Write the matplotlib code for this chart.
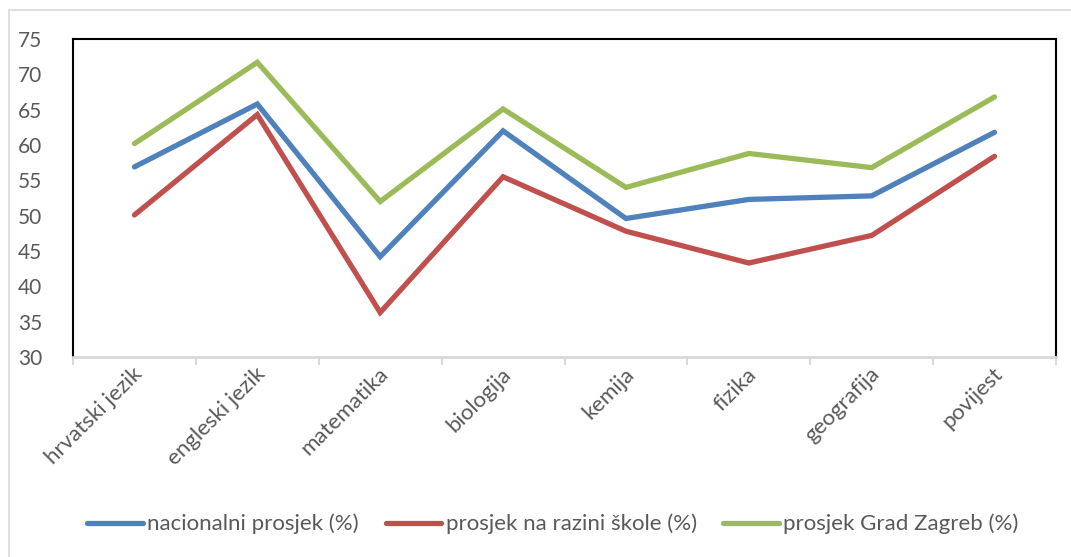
import matplotlib.pyplot as plt
from matplotlib.patches import Rectangle

subjects = ['hrvatski jezik', 'engleski jezik', 'matematika', 'biologija',
            'kemija', 'fizika', 'geografija', 'povijest']
nacionalni = [56.9, 65.8, 44.2, 62.0, 49.6, 52.3, 52.8, 61.8]
skola = [50.1, 64.3, 36.3, 55.5, 47.8, 43.3, 47.2, 58.4]
zagreb = [60.2, 71.7, 52.0, 65.1, 54.0, 58.8, 56.8, 66.8]

labels = ['nacionalni prosjek (%)', 'prosjek na razini škole (%)', 'prosjek Grad Zagreb (%)']
colors = ['#4F81BD', '#C0504D', '#9BBB59']
txt = '#595959'

plt.rcParams['font.family'] = ['Lato', 'DejaVu Sans']

fig = plt.figure(figsize=(10.71, 5.57), dpi=100)
ax = fig.add_axes([73 / 1071, 1 - 357 / 557, (1056 - 73) / 1071, (357 - 39) / 557])

# outer chart frame
fig.patches.append(Rectangle((9 / 1071, -0.1), 1.2, 1 - 10 / 557 + 0.1,
                             transform=fig.transFigure, fill=False,
                             edgecolor='#D9D9D9', linewidth=1.2))

x = range(len(subjects))
for vals, lab, c in zip([nacionalni, skola, zagreb], labels, colors):
    ax.plot(x, vals, color=c, linewidth=3.8, label=lab, solid_capstyle='round',
            solid_joinstyle='miter')

ax.set_xlim(-0.5, len(subjects) - 0.5)
ax.set_ylim(30, 75)
ax.set_yticks(range(30, 80, 5))
ax.tick_params(axis='y', length=0, pad=22, labelsize=15, labelcolor=txt)

# category boundary ticks
ax.set_xticks([i - 0.5 for i in range(len(subjects) + 1)])
ax.set_xticklabels([])
ax.tick_params(axis='x', length=6, width=1.5, color='#D9D9D9', direction='out')
for i, s in enumerate(subjects):
    ax.text(i + 0.04, 28.0, s, rotation=45, ha='right', va='center',
            rotation_mode='anchor', fontsize=16, color=txt)

for side in ['left', 'top', 'right']:
    ax.spines[side].set_color('black')
    ax.spines[side].set_linewidth(1.5)
ax.spines['bottom'].set_color('#D9D9D9')
ax.spines['bottom'].set_linewidth(2)

fig.legend(loc='center', bbox_to_anchor=(553 / 1071, 1 - 524 / 557), ncol=3,
           frameon=False, fontsize=16, labelcolor=txt, handlelength=2.5,
           handletextpad=0.2, columnspacing=1.2)

fig.savefig('out.png', dpi=100)
